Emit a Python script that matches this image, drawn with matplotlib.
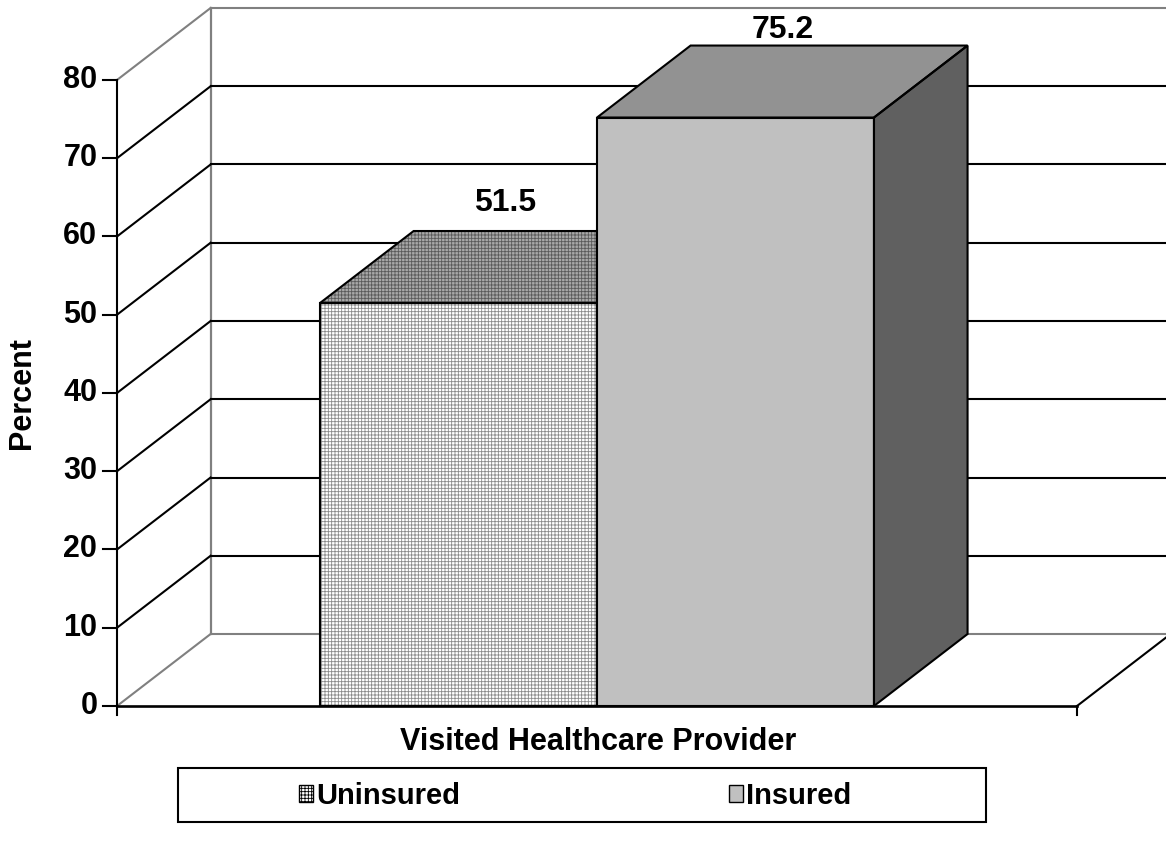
import matplotlib as mpl
import matplotlib.pyplot as plt
from matplotlib.patches import Polygon, Patch, Rectangle

# Données
series = ['Uninsured', 'Insured']
percent = [51.5, 75.2]
category = 'Visited Healthcare Provider'
y_ticks = [0, 10, 20, 30, 40, 50, 60, 70, 80]

# Styles des séries (face avant, dessus, côté)
front_colors = ['white', '#c0c0c0']
top_colors = ['#a8a8a8', '#929292']
side_colors = ['#606060', '#606060']
label_offsets = [3.6, 2.0]

mpl.rcParams['font.family'] = ['Liberation Sans', 'DejaVu Sans']
mpl.rcParams['font.weight'] = 'bold'
mpl.rcParams['hatch.linewidth'] = 0.6

fig = plt.figure(figsize=(11.66, 8.46), dpi=100)
ax = fig.add_axes([0, 0, 1, 1])
ax.axis('off')
ax.set_xlim(-0.121875, 1.092708)
ax.set_ylim(-17.89, 90.22)

# Profondeur de la perspective (en unités de données)
DX = 0.0975
DY = 9.2
ymax = y_ticks[-1]
grey = '#808080'

# Mur du fond et mur de gauche
ax.plot([DX, DX], [DY, ymax + DY], color=grey, lw=1.6, zorder=1)
for v in y_ticks:
    c = grey if v in (0, ymax) else 'black'
    ax.plot([0, DX], [v, v + DY], color=c, lw=1.5, zorder=1)
    ax.plot([DX, 1 + DX], [v + DY, v + DY], color=c, lw=1.5, zorder=1)

# Sol
ax.plot([1, 1 + DX], [0, DY], color='black', lw=1.5, zorder=1)
ax.plot([0, 1], [0, 0], color='black', lw=1.9, zorder=5)

# Axe vertical et graduations
ax.plot([0, 0], [-1.1, ymax], color='black', lw=1.5, zorder=5)
for v in y_ticks:
    ax.plot([-0.0146, 0], [v, v], color='black', lw=1.5, zorder=5)
    ax.text(-0.0205, v, str(v), ha='right', va='center', fontsize=22)
ax.plot([1, 1], [-1.1, 0], color='black', lw=1.5, zorder=5)

# Barres 3D
w = 0.2885
gap = (1 - len(series) * w) / 2
for i, v in enumerate(percent):
    x0 = gap + i * w
    front = [(x0, 0), (x0 + w, 0), (x0 + w, v), (x0, v)]
    top = [(x0, v), (x0 + w, v), (x0 + w + DX, v + DY), (x0 + DX, v + DY)]
    side = [(x0 + w, 0), (x0 + w + DX, DY), (x0 + w + DX, v + DY), (x0 + w, v)]
    z = 10 + i * 3
    if i == 0:
        ax.add_patch(Polygon(front, facecolor=front_colors[i], edgecolor='#8a8a8a',
                             hatch='+++++', lw=0, zorder=z))
        ax.add_patch(Polygon(top, facecolor=top_colors[i], edgecolor='#5a5a5a',
                             hatch='+++++', lw=0, zorder=z))
    else:
        ax.add_patch(Polygon(front, facecolor=front_colors[i], lw=0, zorder=z))
        ax.add_patch(Polygon(top, facecolor=top_colors[i], lw=0, zorder=z))
    ax.add_patch(Polygon(side, facecolor=side_colors[i], lw=0, zorder=z))
    for poly in (front, top, side):
        ax.add_patch(Polygon(poly, fill=False, edgecolor='black', lw=1.5,
                             joinstyle='miter', zorder=z + 1))
    ax.text(x0 + w / 2 + DX / 2, v + DY + label_offsets[i], f'{v}',
            ha='center', va='center', fontsize=23)

# Titres des axes
ax.text(-0.099, 40.0, 'Percent', rotation=90, ha='center', va='center', fontsize=22)
ax.text(0.501, -4.6, category, ha='center', va='center', fontsize=22)

# Légende
handles = [Patch(facecolor='white', edgecolor='black', hatch='+++++', lw=1),
           Patch(facecolor=front_colors[1], edgecolor='black', lw=1)]
leg = ax.legend(handles, series, ncol=2, loc='center',
                bbox_to_anchor=(575 / 1166, 1 - 796 / 846), bbox_transform=fig.transFigure,
                frameon=False, fontsize=21, handlelength=0.5, handleheight=0.5,
                handletextpad=0.1, columnspacing=9.2)
ax.add_patch(Rectangle((178 / 1166, 1 - 822 / 846), (986 - 178) / 1166, 54 / 846,
                       transform=fig.transFigure, fill=False, edgecolor='black', lw=1.5,
                       clip_on=False, zorder=20))

fig.savefig('out.png', dpi=100)
